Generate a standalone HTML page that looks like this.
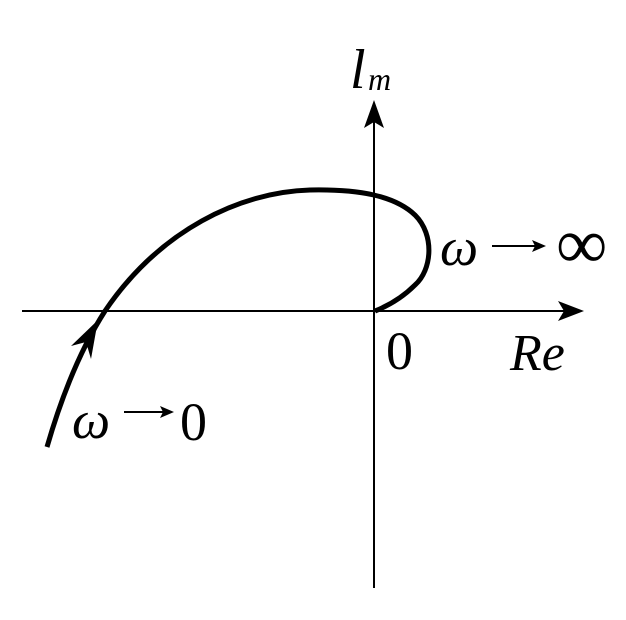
<!DOCTYPE html>
<html><head><meta charset="utf-8"><style>html,body{margin:0;padding:0;background:#fff}text{font-family:"Liberation Serif",serif}</style></head>
<body>
<svg width="626" height="615" viewBox="0 0 626 615" xmlns="http://www.w3.org/2000/svg">
<line x1="374" y1="588" x2="374" y2="115" stroke="#000" stroke-width="2"/>
<polygon points="374,100 364,128 374,122 384,128" fill="#000"/>
<line x1="22" y1="311" x2="570" y2="311" stroke="#000" stroke-width="2"/>
<polygon points="584,311 558,301 564,311 558,321" fill="#000"/>
<path d="M47,447 C62,395 80,350 105,311 C160,230 240,192 310,190 C360,189 395,196 415,215 C435,235 432,270 415,285 C400,300 385,307 375,311" fill="none" stroke="#000" stroke-width="5"/>
<polygon points="98,320 71,346 86,342 91,359" fill="#000"/>
<g fill="#000">
<text x="350" y="88" font-size="56" font-style="italic">l</text>
<text x="368" y="90" font-size="32" font-style="italic">m</text>
<text x="440" y="265" font-size="54" font-style="italic">ω</text>
<text x="556" y="268" font-size="72">∞</text>
<text x="386" y="369" font-size="54">0</text>
<text x="510" y="370" font-size="52" font-style="italic">Re</text>
<text x="72" y="438" font-size="54" font-style="italic">ω</text>
<text x="180" y="440" font-size="54">0</text>
</g>
<g stroke="#000" stroke-width="2" fill="#000">
<line x1="492" y1="246" x2="540" y2="246"/>
<polygon points="546,246 532,240 535,246 532,252" stroke="none"/>
<line x1="124" y1="412" x2="168" y2="412"/>
<polygon points="174,412 160,406 163,412 160,418" stroke="none"/>
</g>
</svg>
</body></html>
